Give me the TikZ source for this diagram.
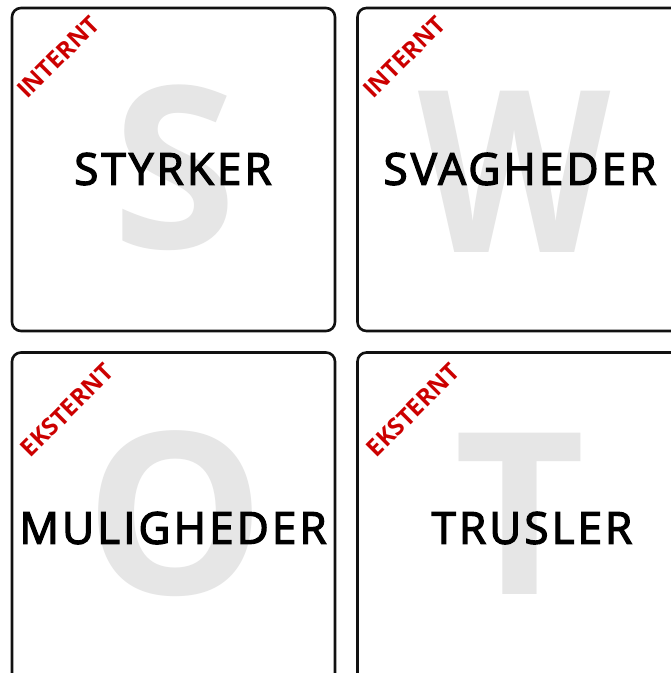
\documentclass[tikz,border=0pt]{standalone}
\usepackage{fontspec}
\setmainfont{Open Sans}
\newfontfamily\labelfont[LetterSpace=7,FakeBold=3]{Open Sans}
\newfontfamily\tagfont{Open Sans}
\newfontfamily\bigfont{Open Sans}
\definecolor{boxline}{HTML}{111111}
\definecolor{tagred}{HTML}{CC0000}
\definecolor{ghost}{HTML}{E6E6E6}
\begin{document}
\begin{tikzpicture}[x=1pt,y=-1pt,
  swotbox/.style={draw=boxline,line width=2.6pt,rounded corners=9pt,fill=white},
  ghostletter/.style={text=ghost,font=\bigfont\bfseries\fontsize{226}{226}\selectfont,inner sep=0pt,anchor=center},
  mainlabel/.style={text=black,font=\labelfont\fontsize{44}{44}\selectfont,inner sep=0pt,anchor=center},
  tag/.style={text=tagred,font=\tagfont\bfseries\fontsize{24}{24}\selectfont,rotate=45,inner sep=0pt,anchor=center}]
\useasboundingbox (0,0) rectangle (671,673);
\clip (0,0) rectangle (671,673);
% boxes
\draw[swotbox] (12,8) rectangle (335,331);
\draw[swotbox] (357.5,8) rectangle (682,331);
\draw[swotbox] (12,352.5) rectangle (335,684);
\draw[swotbox] (357.5,352.5) rectangle (682,684);
% ghost letters
\node[ghostletter] (gS) at (175,168) {S};
\node[ghostletter,xscale=0.88] (gW) at (515,172) {W};
\node[ghostletter] (gO) at (175,514) {O};
\node[ghostletter] (gT) at (520,514) {T};
% main labels
\node[mainlabel] (s) at (173,169) {STYRKER};
\node[mainlabel] (w) at (520,169) {SVAGHEDER};
\node[mainlabel] (o) at (173,528) {MULIGHEDER};
\node[mainlabel] (t) at (532,528) {TRUSLER};
% tags
\node[tag] (ti1) at (58,57) {INTERNT};
\node[tag] (ti2) at (404,57) {INTERNT};
\node[tag] (te1) at (67,410) {EKSTERNT};
\node[tag] (te2) at (413,410) {EKSTERNT};
\end{tikzpicture}
\end{document}
